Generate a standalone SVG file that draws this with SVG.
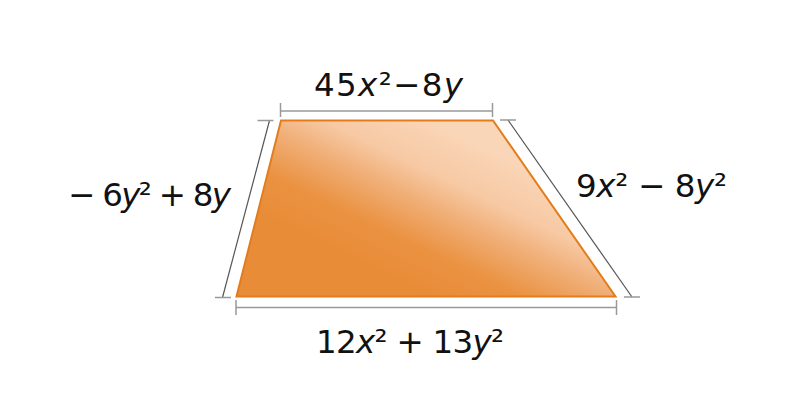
<svg xmlns="http://www.w3.org/2000/svg" width="800" height="408" viewBox="0 0 800 408">
<defs>
<linearGradient id="g" gradientUnits="userSpaceOnUse" x1="385" y1="275" x2="455" y2="130">
<stop offset="0" stop-color="#E98C38"/>
<stop offset="0.25" stop-color="#EA9241"/>
<stop offset="0.5" stop-color="#F0AE76"/>
<stop offset="0.7" stop-color="#F7C9A4"/>
<stop offset="1" stop-color="#FAD6B8"/>
</linearGradient>
<style>
.t{font-family:"DejaVu Sans",Verdana,sans-serif;font-size:32.5px;fill:#111}
.i{font-style:italic}
.dim{stroke:#555;stroke-width:1.2;fill:none}
.tick{stroke:#999;stroke-width:1.5;fill:none}
</style>
</defs>
<g id="trapezoid">
<polygon points="281,120.5 493,120.5 615.5,296.5 236.5,296.5" fill="url(#g)" stroke="#E27C1C" stroke-width="2"/>
</g>
<g id="dimensions">
<line class="tick" x1="280.5" y1="111" x2="492.5" y2="111"/>
<line class="tick" x1="280.5" y1="103" x2="280.5" y2="117"/>
<line class="tick" x1="492.5" y1="103" x2="492.5" y2="117"/>
<line class="tick" x1="236" y1="307.5" x2="616.5" y2="307.5"/>
<line class="tick" x1="236" y1="300" x2="236" y2="315"/>
<line class="tick" x1="616.5" y1="300" x2="616.5" y2="315"/>
<line class="dim" x1="269.5" y1="120.5" x2="222.5" y2="297.5"/>
<line class="tick" x1="257.5" y1="120.5" x2="273.5" y2="120.5"/>
<line class="tick" x1="215" y1="297.5" x2="231" y2="297.5"/>
<line class="dim" x1="508" y1="120" x2="632" y2="297"/>
<line class="tick" x1="500" y1="120" x2="516" y2="120"/>
<line class="tick" x1="624" y1="297" x2="640" y2="297"/>
</g>
<g id="labels">
<text class="t" x="314" y="96" textLength="149" lengthAdjust="spacing">45<tspan class="i">x</tspan>²−8<tspan class="i">y</tspan></text>
<text class="t" x="68" y="206" textLength="163" lengthAdjust="spacing">− 6<tspan class="i">y</tspan>² + 8<tspan class="i">y</tspan></text>
<text class="t" x="576" y="197" textLength="151" lengthAdjust="spacing">9<tspan class="i">x</tspan>² − 8<tspan class="i">y</tspan>²</text>
<text class="t" x="316" y="353" textLength="188" lengthAdjust="spacing">12<tspan class="i">x</tspan>² + 13<tspan class="i">y</tspan>²</text>
</g>
</svg>
